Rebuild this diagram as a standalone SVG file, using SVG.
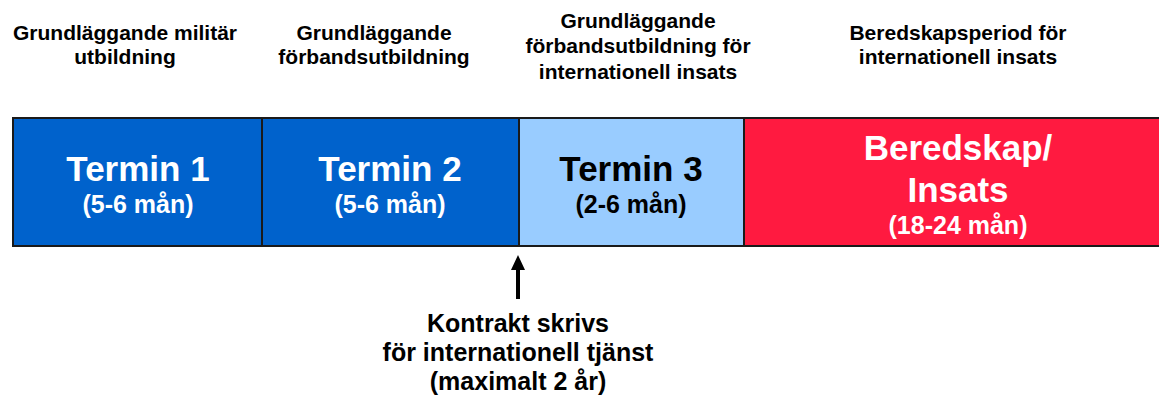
<svg xmlns="http://www.w3.org/2000/svg" width="1159" height="398" viewBox="0 0 1159 398">
  <style>
    text { font-family: "Liberation Sans", Arial, sans-serif; font-weight: bold; text-anchor: middle; }
    .head { font-size: 21px; fill: #000; }
    .big { font-size: 35px; }
    .small { font-size: 25px; }
    .light { fill: #fff; }
    .dark { fill: #000; }
    .seg { stroke: #1a1a1a; stroke-width: 2; }
    .note { font-size: 25px; fill: #000; }
  </style>
  <rect width="1159" height="398" fill="#fff"/>

  <!-- phase headings -->
  <g id="heading-1">
    <text class="head" x="125" y="40">Grundläggande militär</text>
    <text class="head" x="125" y="64">utbildning</text>
  </g>
  <g id="heading-2">
    <text class="head" x="374" y="40">Grundläggande</text>
    <text class="head" x="374" y="64">förbandsutbildning</text>
  </g>
  <g id="heading-3">
    <text class="head" x="638" y="28">Grundläggande</text>
    <text class="head" x="638" y="53">förbandsutbildning för</text>
    <text class="head" x="638" y="79">internationell insats</text>
  </g>
  <g id="heading-4">
    <text class="head" x="958" y="40">Beredskapsperiod för</text>
    <text class="head" x="958" y="64">internationell insats</text>
  </g>

  <!-- timeline segments -->
  <g id="termin-1">
    <rect class="seg" x="13" y="118" width="249" height="128" fill="#0062CC"/>
    <text class="big light" x="138" y="181">Termin 1</text>
    <text class="small light" x="138" y="213">(5-6 mån)</text>
  </g>
  <g id="termin-2">
    <rect class="seg" x="262" y="118" width="257" height="128" fill="#0062CC"/>
    <text class="big light" x="390" y="181">Termin 2</text>
    <text class="small light" x="390" y="213">(5-6 mån)</text>
  </g>
  <g id="termin-3">
    <rect class="seg" x="519" y="118" width="225" height="128" fill="#99CCFF"/>
    <text class="big dark" x="631" y="181">Termin 3</text>
    <text class="small dark" x="631" y="213">(2-6 mån)</text>
  </g>
  <g id="beredskap">
    <rect class="seg" x="744" y="118" width="430" height="128" fill="#FF1A40"/>
    <text class="big light" x="958" y="160">Beredskap/</text>
    <text class="big light" x="958" y="202">Insats</text>
    <text class="small light" x="958" y="234">(18-24 mån)</text>
  </g>

  <!-- contract marker -->
  <g id="connectors">
    <line x1="518" y1="299" x2="518" y2="268" stroke="#000" stroke-width="4"/>
    <polygon points="518,255 525,270 511,270" fill="#000"/>
  </g>
  <g id="kontrakt">
    <text class="note" x="518" y="332">Kontrakt skrivs</text>
    <text class="note" x="518" y="361">för internationell tjänst</text>
    <text class="note" x="518" y="390">(maximalt 2 år)</text>
  </g>
</svg>
